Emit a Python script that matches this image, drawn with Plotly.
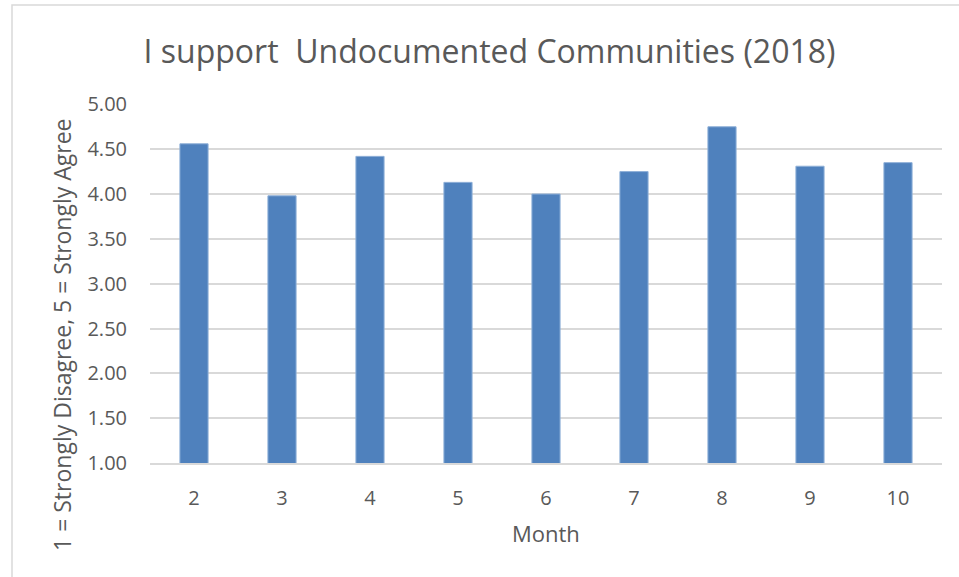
import plotly.graph_objects as go

# Survey responses by month
months = ["2", "3", "4", "5", "6", "7", "8", "9", "10"]
scores = [4.56, 3.98, 4.42, 4.13, 4.00, 4.25, 4.75, 4.31, 4.35]
y_ticks = [1.0, 1.5, 2.0, 2.5, 3.0, 3.5, 4.0, 4.5, 5.0]
y_tick_text = [f"{v:.2f}" for v in y_ticks]

W, H = 959, 577
L, R, T, B = 150, 17, 104, 114
TEXT = "#595959"
GRID = "#d9d9d9"
FONT = "Open Sans"

fig = go.Figure(
    go.Bar(
        x=months,
        y=scores,
        marker=dict(color="#4f81bd", line=dict(color="#8fb0d8", width=1)),
    )
)

pw, ph = W - L - R, H - T - B

def px_to_paper_x(px):
    return (px - L) / pw

def px_to_paper_y(py):
    return (H - B - py) / ph

fig.update_layout(
    width=W,
    height=H,
    margin=dict(l=L, r=R, t=T, b=B),
    paper_bgcolor="white",
    plot_bgcolor="white",
    bargap=0.68,
    showlegend=False,
    font=dict(family=FONT, color=TEXT),
    title=dict(
        text="I support  Undocumented Communities (2018)",
        xref="container",
        yref="container",
        x=489.5 / W,
        y=1 - 52 / H,
        xanchor="center",
        yanchor="middle",
        font=dict(family=FONT, size=32, color=TEXT),
    ),
    xaxis=dict(
        type="category",
        showgrid=False,
        showline=True,
        linecolor=GRID,
        linewidth=1.5,
        ticks="",
        ticklabelstandoff=16,
        tickfont=dict(size=20, color=TEXT),
    ),
    yaxis=dict(
        range=[1, 5.004],
        tickvals=y_ticks,
        ticktext=y_tick_text,
        showgrid=True,
        gridcolor=GRID,
        gridwidth=1.5,
        zeroline=False,
        ticks="",
        ticklabelstandoff=22,
        tickfont=dict(size=20, color=TEXT),
    ),
    annotations=[
        dict(
            text="1 = Strongly Disagree, 5 = Strongly Agree",
            xref="paper",
            yref="paper",
            x=px_to_paper_x(62),
            y=px_to_paper_y(335),
            xanchor="center",
            yanchor="middle",
            textangle=-90,
            showarrow=False,
            font=dict(family=FONT, size=23, color=TEXT),
        ),
        dict(
            text="Month",
            xref="paper",
            yref="paper",
            x=px_to_paper_x(546),
            y=px_to_paper_y(533),
            xanchor="center",
            yanchor="middle",
            showarrow=False,
            font=dict(family=FONT, size=22, color=TEXT),
        ),
    ],
    shapes=[
        dict(
            type="rect",
            xref="paper",
            yref="paper",
            x0=px_to_paper_x(12),
            x1=px_to_paper_x(W + 20),
            y0=px_to_paper_y(H + 20),
            y1=px_to_paper_y(5),
            line=dict(color=GRID, width=1.5),
            fillcolor="rgba(0,0,0,0)",
            layer="below",
        )
    ],
)

fig.write_html("out.html")
